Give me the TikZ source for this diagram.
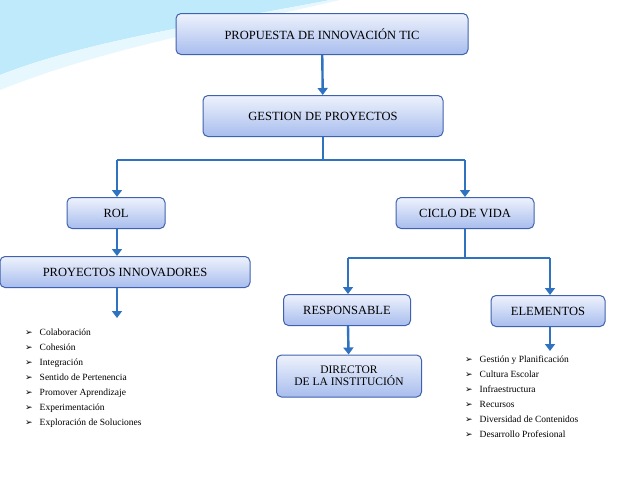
\documentclass[tikz,border=0pt]{standalone}
\usepackage{fontspec}
\setmainfont{Liberation Serif}
\newfontfamily\symfont{DejaVu Sans}
\usetikzlibrary{positioning,arrows.meta}
\definecolor{borde}{HTML}{3F62AE}
\definecolor{azulflecha}{HTML}{2E72C0}
\definecolor{arriba}{HTML}{EEF2FC}
\definecolor{abajo}{HTML}{A8BDEE}
\tikzset{
  caja/.style={draw=borde, line width=1pt, rounded corners=5pt,
    top color=arriba, bottom color=abajo, font=\fontsize{12.5}{14}\selectfont,
    inner sep=0pt, align=center},
  flecha/.style={draw=azulflecha, line width=2.4pt, -{Triangle[length=7pt,width=10pt]}},
  linea/.style={draw=azulflecha, line width=2.4pt},
  lista/.style={font=\fontsize{9.5}{15}\selectfont, align=left, anchor=north west, inner sep=0pt}
}
\newcommand{\vin}{{\symfont\fontsize{9}{10}\selectfont ➢}\hspace{7pt}}
\begin{document}
\begin{tikzpicture}[x=1pt,y=-1pt]
    \useasboundingbox (0,0) rectangle (638,479);
    % fondo
    \fill[cyan!25] (0,0) -- (330,0) .. controls (200,25) and (90,40) .. (0,75) -- cycle;
    \fill[cyan!10] (0,75) .. controls (90,40) and (200,25) .. (330,0) -- (340,0) .. controls (210,30) and (100,50) .. (0,90) -- cycle;
    % cajas
    \node[caja, minimum width=292, minimum height=41] (tic) at (322,34) {PROPUESTA DE INNOVACIÓN TIC};
    \node[caja, minimum width=240, minimum height=41] (gestion) at (323,116) {GESTION DE PROYECTOS};
    \node[caja, minimum width=98, minimum height=31] (rol) at (116,213) {ROL};
    \node[caja, minimum width=138, minimum height=31] (ciclo) at (465,213) {CICLO DE VIDA};
    \node[caja, minimum width=250, minimum height=31] (innov) at (125,272) {PROYECTOS INNOVADORES};
    \node[caja, minimum width=127, minimum height=31] (resp) at (347,310) {RESPONSABLE};
    \node[caja, minimum width=114, minimum height=31] (elem) at (548,311) {ELEMENTOS};
    \node[caja, minimum width=145, minimum height=42, font=\fontsize{11.5}{12}\selectfont] (director) at (349,376) {DIRECTOR\\DE LA INSTITUCIÓN};
    % conectores
    \coordinate (g1) at (323,160);
    \coordinate (g2) at (117,160);
    \coordinate (g3) at (465,160);
    \coordinate (c1) at (465,258);
    \coordinate (c2) at (348,258);
    \coordinate (c3) at (550,258);
    \coordinate (lst) at (117,318);
    \draw[flecha] (tic) -- (gestion);
    \draw[linea] (gestion) -- (g1);
    \draw[linea] (g2) -- (g3);
    \draw[flecha] (g2) -- (rol.north -| g2);
    \draw[flecha] (g3) -- (ciclo);
    \draw[flecha] (rol.south -| g2) -- (innov.north -| g2);
    \draw[flecha] (innov.south -| g2) -- (lst);
    \draw[linea] (ciclo) -- (c1);
    \draw[linea] (c2) -- (c3);
    \draw[flecha] (c2) -- (resp.north -| c2);
    \draw[flecha] (c3) -- (elem.north -| c3);
    \draw[flecha] (resp.south -| c2) -- (director);
    \draw[flecha] (elem.south -| c3) -- ++(0,24) coordinate (l2);
    % listas
    \node[lista] (roles) at (25,329) {\vin Colaboración\\ \vin Cohesión\\ \vin Integración\\ \vin Sentido de Pertenencia\\ \vin Promover Aprendizaje\\ \vin Experimentación\\ \vin Exploración de Soluciones};
    \node[lista] (elementos) at (465,356) {\vin Gestión y Planificación\\ \vin Cultura Escolar\\ \vin Infraestructura\\ \vin Recursos\\ \vin Diversidad de Contenidos\\ \vin Desarrollo Profesional};
\end{tikzpicture}
\end{document}
